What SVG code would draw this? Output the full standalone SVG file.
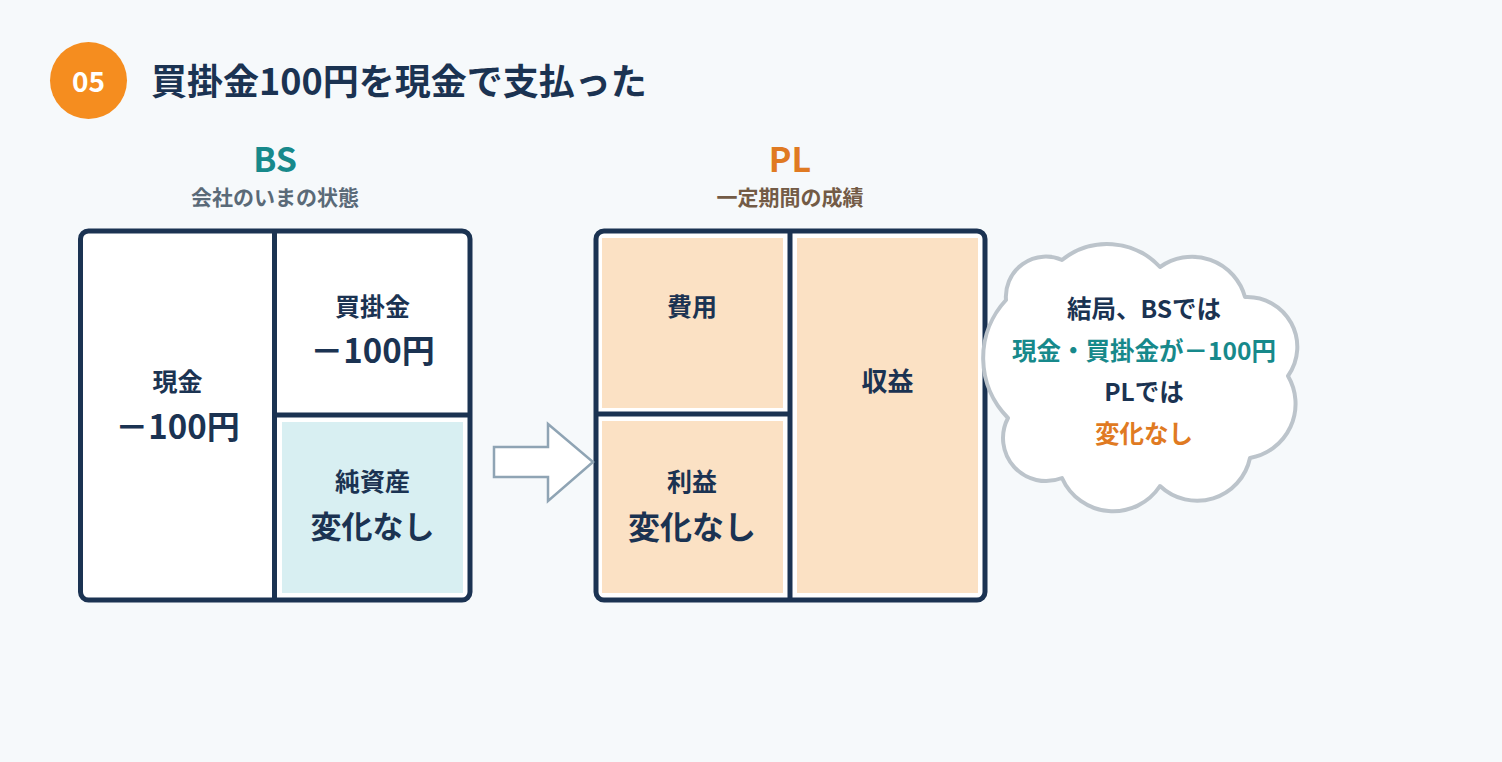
<svg xmlns="http://www.w3.org/2000/svg" width="1502" height="762" viewBox="0 0 1502 762">
<style>
text{font-family:"Noto Sans CJK JP","Noto Sans",sans-serif;font-weight:700;text-anchor:middle}
.navy{fill:#1b3352}
.frame{fill:#ffffff;stroke:#1b3352;stroke-width:5}
.div{stroke:#1b3352;stroke-width:5;fill:none}
.peach{fill:#fbe1c4}
.teal{fill:#17898b}
.orange{fill:#e07a22}
.lbl{font-size:25px}
.amt{font-size:33px}
.cloudtxt{font-size:24.5px}
</style>
<rect x="0" y="0" width="1502" height="762" fill="#f6f9fb"/>

<g id="header">
  <circle cx="88.5" cy="80.5" r="38.5" fill="#f58d1f"/>
  <text x="88.5" y="92" font-size="28" fill="#ffffff">05</text>
  <text x="151" y="95" font-size="36" class="navy" style="text-anchor:start">買掛金100円を現金で支払った</text>
</g>

<g id="bs-heading">
  <text x="275" y="172" font-size="34" class="teal">BS</text>
  <text x="275" y="205" font-size="21" fill="#5a6a78">会社のいまの状態</text>
</g>

<g id="pl-heading">
  <text x="790" y="172" font-size="34" class="orange">PL</text>
  <text x="790" y="205" font-size="21" fill="#735b46">一定期間の成績</text>
</g>

<g id="bs-box">
  <rect x="80.5" y="231" width="389.5" height="369" rx="8" class="frame"/>
  <rect x="282" y="422" width="181" height="171" fill="#d8eff2"/>
  <line x1="274.5" y1="231" x2="274.5" y2="600" class="div"/>
  <line x1="274.5" y1="415" x2="470" y2="415" class="div"/>
</g>
<g id="bs-cash">
  <text x="177.5" y="391" class="lbl navy">現金</text>
  <text x="177.5" y="439" class="amt navy">－100円</text>
</g>
<g id="bs-payable">
  <text x="372.5" y="316" class="lbl navy">買掛金</text>
  <text x="372.5" y="363" class="amt navy">－100円</text>
</g>
<g id="bs-equity">
  <text x="372.5" y="491" class="lbl navy">純資産</text>
  <text x="372.5" y="538" font-size="31" class="navy">変化なし</text>
</g>

<g id="pl-box">
  <rect x="596" y="231" width="389" height="369" rx="8" class="frame"/>
  <rect x="602" y="238" width="181" height="170" class="peach"/>
  <rect x="602" y="421" width="181" height="172" class="peach"/>
  <rect x="797" y="238" width="181" height="355" class="peach"/>
  <line x1="790" y1="231" x2="790" y2="600" class="div"/>
  <line x1="596" y1="414" x2="790" y2="414" class="div"/>
</g>
<g id="pl-expense">
  <text x="692" y="316" class="lbl navy">費用</text>
</g>
<g id="pl-revenue">
  <text x="887.5" y="391" font-size="26" class="navy">収益</text>
</g>
<g id="pl-profit">
  <text x="692" y="491" class="lbl navy">利益</text>
  <text x="692" y="539" font-size="32" class="navy">変化なし</text>
</g>

<g id="connectors">
  <path d="M494 447 H548 V424 L593 462 L548 501 V477 H494 Z" fill="#ffffff" stroke="#8fa4b4" stroke-width="2.5" stroke-linejoin="miter"/>
</g>

<g id="summary-cloud">
  <path d="M1006 300 A40 40 0 0 1 1062 260 A72 72 0 0 1 1160 267 A55 55 0 0 1 1245 297 A50 50 0 0 1 1288 376 A55 55 0 0 1 1250 458 A54 54 0 0 1 1160 486 A56 56 0 0 1 1062 478 A43 43 0 0 1 1008 418 A85 85 0 0 1 1006 300 Z" fill="#ffffff" stroke="#bcc4cb" stroke-width="4" stroke-linejoin="round"/>
  <text x="1144" y="318" class="cloudtxt navy">結局、BSでは</text>
  <text x="1144" y="360" class="cloudtxt teal">現金・買掛金が－100円</text>
  <text x="1144" y="401" class="cloudtxt navy">PLでは</text>
  <text x="1144" y="443" class="cloudtxt orange">変化なし</text>
</g>
</svg>
